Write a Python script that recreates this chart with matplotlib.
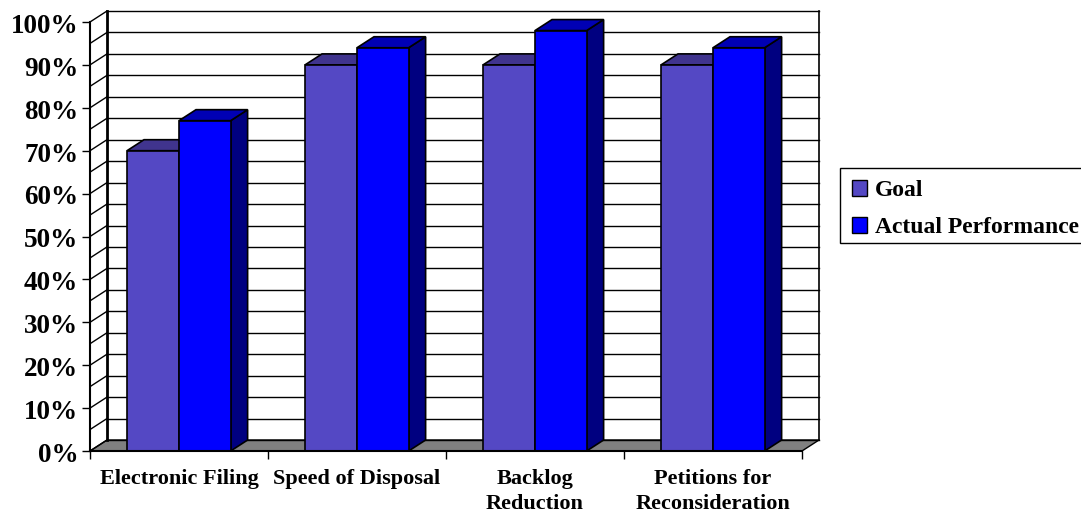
import matplotlib
matplotlib.use('Agg')
import matplotlib.pyplot as plt
from matplotlib.patches import Patch, Rectangle
from matplotlib.transforms import ScaledTranslation

categories = ['Electronic Filing', 'Speed of Disposal', 'Backlog\nReduction', 'Petitions for\nReconsideration']
goal = [70, 90, 90, 90]
actual = [77, 94, 98, 94]
y_ticks = list(range(0, 101, 10))
y_labels = ['%d%%' % v for v in y_ticks]
grid_levels = list(range(0, 101, 5))
series_names = ['Goal', 'Actual Performance']

plt.rcParams['font.family'] = ['Liberation Serif', 'DejaVu Serif']
plt.rcParams['font.weight'] = 'bold'

W, H = 1081, 512
fig = plt.figure(figsize=(W / 100, H / 100), dpi=100, facecolor='white')

# front plane runs x 90-802 px, 0% at y=451, 100% at y=22; depth is 17x11 px
px_x = 178.0
px_y = 4.29
dx = 17 / px_x
dy = 11 / px_y
ax = fig.add_axes([90 / W, (H - 451) / H, 729 / W, 440 / H])
ax.set_xlim(0, 4 + dx)
ax.set_ylim(0, 100 + dy)
ax.patch.set_visible(False)

# floor
ax.fill([0, 4, 4 + dx, dx], [0, 0, dy, dy], color='#808080', zorder=1, lw=0)
ax.plot([0, dx, 4 + dx, 4, 0], [0, dy, dy, 0, 0], color='black', lw=1, zorder=1.1, clip_on=False)

# walls
for v in grid_levels:
    ax.plot([dx, 4 + dx], [v + dy, v + dy], color='black', lw=1, zorder=1.2, clip_on=False)
    ax.plot([0, dx], [v, v + dy], color='black', lw=1, zorder=1.2, clip_on=False)
ax.plot([dx, dx], [dy, 100 + dy], color='black', lw=2, zorder=1.3, clip_on=False)
ax.plot([4 + dx, 4 + dx], [dy, 100 + dy], color='black', lw=1.2, zorder=1.3, clip_on=False)


def box(x0, w, h, front, top, side, z):
    ax.fill([x0 + w, x0 + w + dx, x0 + w + dx, x0 + w], [0, dy, h + dy, h], facecolor=side,
            edgecolor='black', lw=1.2, zorder=z)
    ax.fill([x0, x0 + w, x0 + w + dx, x0 + dx], [h, h, h + dy, h + dy], facecolor=top,
            edgecolor='black', lw=1.2, zorder=z + 0.1)
    ax.bar(x0, h, w, align='edge', color=front, edgecolor='black', lw=1.2, zorder=z + 0.2)


bar_w = 0.29
for i in range(len(categories)):
    box(i + 0.208, bar_w, goal[i], '#5448c4', '#40348e', '#28286e', 2)
    box(i + 0.5, bar_w, actual[i], '#0000ff', '#0000b4', '#000080', 3)

for s in ['top', 'right']:
    ax.spines[s].set_visible(False)
ax.spines['left'].set_bounds(0, 100)
ax.spines['bottom'].set_bounds(0, 4)
ax.spines['left'].set_linewidth(1.5)
ax.spines['bottom'].set_linewidth(1.5)
ax.spines['left'].set_zorder(5)
ax.spines['bottom'].set_zorder(5)

ax.set_yticks(y_ticks)
ax.set_yticklabels(y_labels, fontsize=19.5, fontweight='bold')
ax.tick_params(axis='y', length=5.5, width=1, pad=3)
shift = ScaledTranslation(0, -1 / 72, fig.dpi_scale_trans)
for t in ax.get_yticklabels():
    t.set_transform(t.get_transform() + shift)
ax.set_xticks(range(5))
ax.set_xticklabels([])
ax.tick_params(axis='x', length=5.5, width=1)
for i, c in enumerate(categories):
    ax.annotate(c, (i + 0.5, 0), xytext=(0, -13), textcoords='offset points', ha='center', va='top',
                fontsize=16, fontweight='bold', linespacing=1.3, annotation_clip=False)

# legend box runs off the right edge in the original
fig.add_artist(Rectangle((840 / W, 1 - 243 / H), 260 / W, 75 / H, transform=fig.transFigure,
                         facecolor='white', edgecolor='black', lw=1))
handles = [Patch(facecolor='#5448c4', edgecolor='black', label=series_names[0]),
           Patch(facecolor='#0000ff', edgecolor='black', label=series_names[1])]
leg = fig.legend(handles=handles, loc='upper left', bbox_to_anchor=(840 / W, 1 - 168.5 / H),
                 bbox_transform=fig.transFigure, borderaxespad=0, frameon=False,
                 prop={'size': 17, 'weight': 'bold'},
                 handlelength=0.63, handleheight=0.63, handletextpad=0.34, labelspacing=0.68,
                 borderpad=0.5)

fig.savefig('out.png', dpi=100)
